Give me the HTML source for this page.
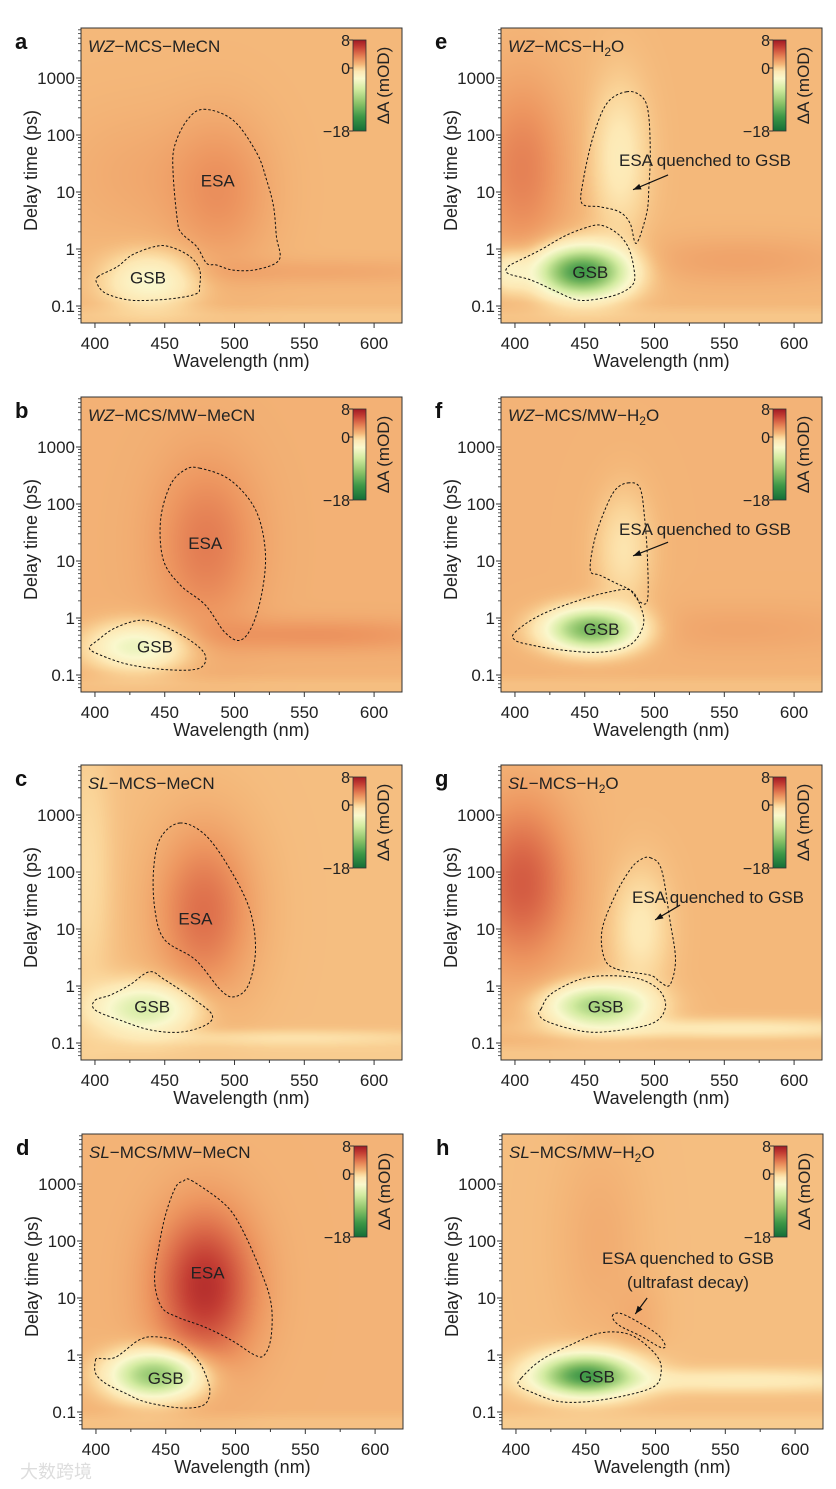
<!DOCTYPE html>
<html><head><meta charset="utf-8">
<style>
html,body{margin:0;padding:0;background:#fff;}
#root{position:relative;width:836px;height:1489px;overflow:hidden;background:#fff;font-family:"Liberation Sans",Arial,sans-serif;}
canvas{position:absolute;}
svg{position:absolute;left:0;top:0;}
</style></head>
<body>
<div id="root">
<svg id="ov" width="836" height="1489"></svg>
</div>
<script>
// ---- axis domains ----
const wlTicks = [400, 450, 500, 550, 600];
const wlMinor = [425, 475, 525, 575];
const delayTicks = [0.1, 1, 10, 100, 1000];
const delayTickLabels = ["0.1", "1", "10", "100", "1000"];
const cbTicks = [8, 0, -18];
const cbTickLabels = ["8", "0", "\u221218"];

// ---- heatmap features per panel: [wavelength nm, log10 delay, sigma nm, sigma log, amplitude mOD]
const bgA = 1.0;
const featA = [[490,1.0,25,0.9,1.6],[430,1.3,40,0.8,0.6],[560,-0.4,80,0.15,0.7],[440,-0.55,22,0.32,-4.2]];
const bgB = 1.3;
const featB = [[480,1.3,25,1.0,2.2],[560,-0.3,70,0.2,1.3],[430,-0.5,24,0.28,-5.5]];
const bgC = 0.8;
const featC = [[478,1.3,24,1.0,3.2],[395,2,12,1.6,-1.2],[436,-0.4,24,0.3,-6.5],[540,-0.92,80,0.1,-1.5]];
const bgD = 1.2;
const featD = [[478,1.2,24,0.9,5.5],[443,-0.35,22,0.28,-11]];
const bgE = 1.0;
const featE = [[405,1.4,22,1.1,2.3],[475,1.6,14,0.9,-2.4],[448,-0.4,22,0.3,-15],[560,-0.2,60,0.3,0.9],[395,-0.4,10,0.25,-3]];
const bgF = 1.2;
const featF = [[455,-0.2,22,0.25,-12.5],[478,1.2,14,0.7,-2.0],[560,-0.2,70,0.3,0.6]];
const bgG = 1.0;
const featG = [[405,1.8,24,1.0,3.8],[490,1.0,14,0.7,-2.2],[460,-0.35,24,0.25,-9.5],[560,-0.75,80,0.12,-2.2]];
const bgH = 0.8;
const featH = [[450,-0.35,24,0.25,-14],[488,0.6,12,0.5,0.6],[560,-0.45,80,0.14,-2.2],[460,2,20,1.2,0.7]];

// ---- contours: wavelength arrays and log10 delay arrays
const esaAW=[478,499,516,523,528,530,532,516,499,487,480,473,462,459,456,457,466];
const esaAT=[2.45,2.26,1.68,1.21,0.74,0.22,-0.19,-0.36,-0.37,-0.28,-0.25,0.04,0.28,0.51,1.33,1.8,2.26];
const gsbAW=[402,416,427,444,455,468,475,475,473,459,439.5,423,408,402];
const gsbAT=[-0.49,-0.31,-0.1,0.05,0.03,-0.13,-0.36,-0.66,-0.78,-0.86,-0.9,-0.89,-0.78,-0.63];
const esaBW=[475,497,515,522,520,513,504,493,479,461,449,447,454,464.5];
const esaBT=[2.63,2.42,1.9,1.19,0.49,-0.12,-0.39,-0.25,0.23,0.58,1.02,1.72,2.33,2.6];
const gsbBW=[402,414,432,447,468,479,475,454,425,404,396];
const gsbBT=[-0.39,-0.18,-0.04,-0.12,-0.39,-0.65,-0.88,-0.91,-0.82,-0.65,-0.53];
const esaCW=[461,479,497,511,515,510,500,490,472,450,443,442,447];
const esaCT=[2.86,2.65,2.04,1.33,0.63,0.02,-0.19,-0.07,0.46,0.81,1.33,2.04,2.6];
const gsbCW=[400,411,425,439,450,472,484,479,461,439.5,418,400];
const gsbCT=[-0.25,-0.16,0.02,0.25,0.11,-0.25,-0.51,-0.69,-0.81,-0.77,-0.6,-0.42];
const esaDW=[468.5,492,504,518,525.5,525.5,520.7,513.6,497,478,459,447,442,445,450,457,462.6];
const esaDT=[3.06,2.65,2.24,1.48,0.9,0.32,0.0,0.0,0.26,0.49,0.66,0.84,1.31,1.89,2.47,2.94,3.05];
const gsbDW=[399.7,402,414,430.6,442.5,459,473,480,481.6,478.6,471,456.7,435,421,407,399.7];
const gsbDT=[-0.09,-0.06,-0.04,0.26,0.32,0.23,-0.09,-0.44,-0.67,-0.85,-0.92,-0.92,-0.82,-0.67,-0.5,-0.32];
const esaEW=[480,491,495.6,497,496,494.4,487,482.5,475,461,448,449,456,466];
const esaET=[2.76,2.67,2.38,1.68,1.09,0.63,0.1,0.45,0.65,0.74,0.8,1.21,1.97,2.56];
const gsbEW=[395,404,418,435,449,461,473,481,485,485,475,458.6,444,427.5,411,395];
const gsbET=[-0.31,-0.19,-0.02,0.22,0.36,0.42,0.28,0.04,-0.31,-0.6,-0.78,-0.88,-0.89,-0.72,-0.54,-0.43];
const esaFW=[481,489.6,493,495,495,489.6,482.5,475,461,454,457,464.5,472];
const esaFT=[2.37,2.28,1.72,1.02,0.32,0.28,0.49,0.58,0.75,0.84,1.37,1.9,2.25];
const gsbFW=[400,418,447,468,482.5,489.6,492,482.5,461,433,411,400];
const gsbFT=[-0.25,0.05,0.32,0.46,0.49,0.23,-0.12,-0.47,-0.6,-0.56,-0.47,-0.39];
const esaGW=[497,505,511,515,511,504,497,475,464.5,462.4,472,482.5,489.6];
const esaGT=[2.25,2.04,1.16,0.46,0.02,0.07,0.19,0.28,0.46,0.98,1.6,2.04,2.21];
const gsbGW=[418.7,425.8,447,468,489.6,504,507.6,496.8,461,440,422,417];
const gsbGT=[-0.4,-0.14,0.12,0.18,0.12,-0.09,-0.4,-0.67,-0.81,-0.75,-0.61,-0.49];
const esaHW=[469,475,489.6,502,507,503,489.6,474];
const esaHT=[0.68,0.73,0.55,0.35,0.16,0.14,0.33,0.52];
const gsbHW=[404,418,439.5,461,482.5,500.4,504,496.8,461,432,411,402];
const gsbHT=[-0.4,-0.09,0.18,0.39,0.35,0,-0.3,-0.58,-0.79,-0.82,-0.65,-0.53];

// arrows: [w0, lt0, w1, lt1]
const arrowE=[509.7,1.3,484.6,1.04];
const arrowF=[509.7,1.33,484.6,1.09];
const arrowG=[518.3,1.42,500.4,1.16];
const arrowH=[494,1.0,485.5,0.72];

const panels = [
 {id:'a',L:81,T:28,bg:bgA,feat:featA,title:['WZ','\u2212MCS\u2212MeCN',''],esa:[esaAW,esaAT],gsb:[gsbAW,gsbAT],esaLbl:[488,1.2],gsbLbl:[438,-0.5]},
 {id:'b',L:81,T:397,bg:bgB,feat:featB,title:['WZ','\u2212MCS/MW\u2212MeCN',''],esa:[esaBW,esaBT],gsb:[gsbBW,gsbBT],esaLbl:[479,1.32],gsbLbl:[443,-0.5]},
 {id:'c',L:81,T:765,bg:bgC,feat:featC,title:['SL','\u2212MCS\u2212MeCN',''],esa:[esaCW,esaCT],gsb:[gsbCW,gsbCT],esaLbl:[472,1.18],gsbLbl:[441,-0.36]},
 {id:'d',L:82,T:1134,bg:bgD,feat:featD,title:['SL','\u2212MCS/MW\u2212MeCN',''],esa:[esaDW,esaDT],gsb:[gsbDW,gsbDT],esaLbl:[480,1.45],gsbLbl:[450,-0.4]},
 {id:'e',L:501,T:28,bg:bgE,feat:featE,title:['WZ','\u2212MCS\u2212H','2O'],esa:[esaEW,esaET],gsb:[gsbEW,gsbET],gsbLbl:[454,-0.4],note:['ESA quenched to GSB'],noteXY:[705,160],arrow:arrowE},
 {id:'f',L:501,T:397,bg:bgF,feat:featF,title:['WZ','\u2212MCS/MW\u2212H','2O'],esa:[esaFW,esaFT],gsb:[gsbFW,gsbFT],gsbLbl:[462,-0.19],note:['ESA quenched to GSB'],noteXY:[705,529],arrow:arrowF},
 {id:'g',L:501,T:765,bg:bgG,feat:featG,title:['SL','\u2212MCS\u2212H','2O'],esa:[esaGW,esaGT],gsb:[gsbGW,gsbGT],gsbLbl:[465,-0.36],note:['ESA quenched to GSB'],noteXY:[718,897],arrow:arrowG},
 {id:'h',L:502,T:1134,bg:bgH,feat:featH,title:['SL','\u2212MCS/MW\u2212H','2O'],esa:[esaHW,esaHT],gsb:[gsbHW,gsbHT],gsbLbl:[458,-0.38],note:['ESA quenched to GSB','(ultrafast decay)'],noteXY:[688,1258],arrow:arrowH}
];

const W=321,H=295,WMIN=390,WMAX=620,LTMAX=3.877,LTMIN=-1.298;
const stops=[[-18,[20,110,55]],[-14,[60,150,70]],[-10,[140,195,105]],[-6,[210,235,160]],[-3,[250,248,205]],[-1,[253,232,180]],[0,[250,212,152]],[1,[244,184,122]],[2.5,[237,150,96]],[4,[222,112,76]],[6,[196,62,52]],[8,[160,25,35]]];
function cmap(v){
  if(v<=stops[0][0]) return stops[0][1];
  for(let i=1;i<stops.length;i++){ if(v<=stops[i][0]){const a=stops[i-1],b=stops[i];const t=(v-a[0])/(b[0]-a[0]);return a[1].map((c,k)=>Math.round(c+(b[1][k]-c)*t));}}
  return stops[stops.length-1][1];
}
const NS='http://www.w3.org/2000/svg';
const svg=document.getElementById('ov');
const root=document.getElementById('root');
function el(tag,attrs,parent){const e=document.createElementNS(NS,tag);for(const k in attrs)e.setAttribute(k,attrs[k]);(parent||svg).appendChild(e);return e;}

const defs=el('defs',{});
const grad=el('linearGradient',{id:'cbg',x1:0,y1:0,x2:0,y2:1},defs);
for(let i=0;i<=26;i++){const v=8-i;const c=cmap(v);el('stop',{offset:(i/26),'stop-color':'rgb('+c.join(',')+')'},grad);}

function spline(pts){
  const n=pts.length;let d='M'+pts[0][0].toFixed(1)+','+pts[0][1].toFixed(1);
  for(let i=0;i<n;i++){const p0=pts[(i-1+n)%n],p1=pts[i],p2=pts[(i+1)%n],p3=pts[(i+2)%n];
    const c1=[p1[0]+(p2[0]-p0[0])/6,p1[1]+(p2[1]-p0[1])/6],c2=[p2[0]-(p3[0]-p1[0])/6,p2[1]-(p3[1]-p1[1])/6];
    d+='C'+c1[0].toFixed(1)+','+c1[1].toFixed(1)+' '+c2[0].toFixed(1)+','+c2[1].toFixed(1)+' '+p2[0].toFixed(1)+','+p2[1].toFixed(1);}
  return d+'Z';
}

panels.forEach(p=>{
  const x=w=>p.L+(w-WMIN)/(WMAX-WMIN)*W;
  const y=lt=>p.T+(LTMAX-lt)/(LTMAX-LTMIN)*H;
  const cv=document.createElement('canvas');cv.width=W;cv.height=H;
  cv.style.left=p.L+'px';cv.style.top=p.T+'px';
  
  
  root.insertBefore(cv,svg);
  const ctx=cv.getContext('2d');const img=ctx.createImageData(W,H);
  for(let j=0;j<H;j++){const lt=LTMAX-(j+0.5)/H*(LTMAX-LTMIN);
    for(let i=0;i<W;i++){const w=WMIN+(i+0.5)/W*(WMAX-WMIN);
      let v=p.bg;
      p.feat.forEach(f=>{const dw=(w-f[0])/f[2],dt=(lt-f[1])/f[3];v+=f[4]*Math.exp(-0.5*(dw*dw+dt*dt));});
      if(lt<-0.95) v-=0.5*Math.min(1,(-0.95-lt)/0.2);
      const c=cmap(v);const k=(j*W+i)*4;img.data[k]=c[0];img.data[k+1]=c[1];img.data[k+2]=c[2];img.data[k+3]=255;}}
  ctx.putImageData(img,0,0);
  const g=el('g',{'font-family':'Liberation Sans, Arial, sans-serif',fill:'#222'});
  
  
  const fr=el('rect',{x:p.L,y:p.T,width:W,height:H,fill:'none',stroke:'#333','stroke-width':1},g);
  
  
  wlTicks.forEach(t=>{el('line',{x1:x(t),x2:x(t),y1:p.T+H,y2:p.T+H+5,stroke:'#333'},g);
    const tx=el('text',{x:x(t),y:p.T+H+26,'text-anchor':'middle','font-size':17},g);tx.textContent=t;
    
    });
  wlMinor.forEach(t=>el('line',{x1:x(t),x2:x(t),y1:p.T+H,y2:p.T+H+3,stroke:'#333'},g));
  delayTicks.forEach((t,i)=>{const yy=y(Math.log10(t));el('line',{x1:p.L-5,x2:p.L,y1:yy,y2:yy,stroke:'#333'},g);
    const tx=el('text',{x:p.L-6,y:yy+6,'text-anchor':'end','font-size':17},g);tx.textContent=delayTickLabels[i];
    
    });
  for(let d=-2;d<=3;d++)for(let m=2;m<=9;m++){const lt=d+Math.log10(m);if(lt>LTMIN&&lt<LTMAX){const yy=y(lt);el('line',{x1:p.L-3,x2:p.L,y1:yy,y2:yy,stroke:'#333','stroke-width':0.8},g);}}
  const xt=el('text',{x:p.L+W/2,y:p.T+H+44,'text-anchor':'middle','font-size':18},g);xt.textContent='Wavelength (nm)';
  
  
  const yc=p.T+H/2-5;
  const yt=el('text',{x:p.L-50,y:yc,'text-anchor':'middle','font-size':18,transform:'rotate(-90 '+(p.L-50)+' '+yc+')',dy:6},g);yt.textContent='Delay time (ps)';
  
  
  const lt=el('text',{x:p.L-66,y:p.T+21,'font-size':22,'font-weight':'bold',fill:'#111'},g);lt.textContent=p.id;
  
  
  const tt=el('text',{x:p.L+7,y:p.T+24,'font-size':17},g);
  
  
  const t1=el('tspan',{'font-style':'italic'},tt);t1.textContent=p.title[0];
  const t2=el('tspan',{},tt);t2.textContent=p.title[1];
  if(p.title[2]){const s=el('tspan',{'font-size':12,dy:4},tt);s.textContent='2';const o=el('tspan',{dy:-4},tt);o.textContent='O';}
  const cbx=p.L+272,cby=p.T+12,cbh=91;
  const cb=el('rect',{x:cbx,y:cby,width:13,height:cbh,fill:'url(#cbg)',stroke:'#333','stroke-width':0.8},g);
  
  
  cbTicks.forEach((v,i)=>{const yy=cby+(8-v)/26*cbh;el('line',{x1:cbx-4,x2:cbx,y1:yy,y2:yy,stroke:'#333'},g);
    const tx=el('text',{x:cbx-3,y:yy+6,'text-anchor':'end','font-size':16},g);tx.textContent=cbTickLabels[i];
    
    });
  const cl=el('text',{x:p.L+302,y:cby+cbh/2,'text-anchor':'middle','font-size':17,transform:'rotate(-90 '+(p.L+302)+' '+(cby+cbh/2)+')',dy:6},g);cl.textContent='\u0394A (mOD)';
  
  
  [['esa-contour',p.esa],['gsb-contour',p.gsb]].forEach(c=>{const pts=c[1][0].map((w,i)=>[x(w),y(c[1][1][i])]);
    const pa=el('path',{d:spline(pts),fill:'none',stroke:'#111','stroke-width':1,'stroke-dasharray':'2.5,2'},g);
    
    });
  if(p.esaLbl){const e=el('text',{x:x(p.esaLbl[0]),y:y(p.esaLbl[1])+6,'text-anchor':'middle','font-size':17},g);e.textContent='ESA';
    
    }
  const gs=el('text',{x:x(p.gsbLbl[0]),y:y(p.gsbLbl[1])+6,'text-anchor':'middle','font-size':17},g);gs.textContent='GSB';
  
  
  if(p.note){p.note.forEach((s,i)=>{const n=el('text',{x:p.noteXY[0],y:p.noteXY[1]+6+i*24,'text-anchor':'middle','font-size':17},g);n.textContent=s;
      
      });
    const a=p.arrow;const x0=x(a[0]),y0=y(a[1]),x1=x(a[2]),y1=y(a[3]);
    const ar=el('line',{x1:x0,y1:y0,x2:x1,y2:y1,stroke:'#111','stroke-width':1.2},g);
    
    
    const ang=Math.atan2(y1-y0,x1-x0),L=8,wd=3;
    const hx=x1-L*Math.cos(ang),hy=y1-L*Math.sin(ang);
    el('polygon',{points:x1+','+y1+' '+(hx+wd*Math.sin(ang))+','+(hy-wd*Math.cos(ang))+' '+(hx-wd*Math.sin(ang))+','+(hy+wd*Math.cos(ang)),fill:'#111'},g);}
});
const wm=el('text',{x:20,y:1478,'font-size':18,fill:'#ddd','font-family':'Liberation Sans, Noto Sans CJK SC, sans-serif'});wm.textContent='\u5927\u6570\u8de8\u5883';


</script>
</body></html>
